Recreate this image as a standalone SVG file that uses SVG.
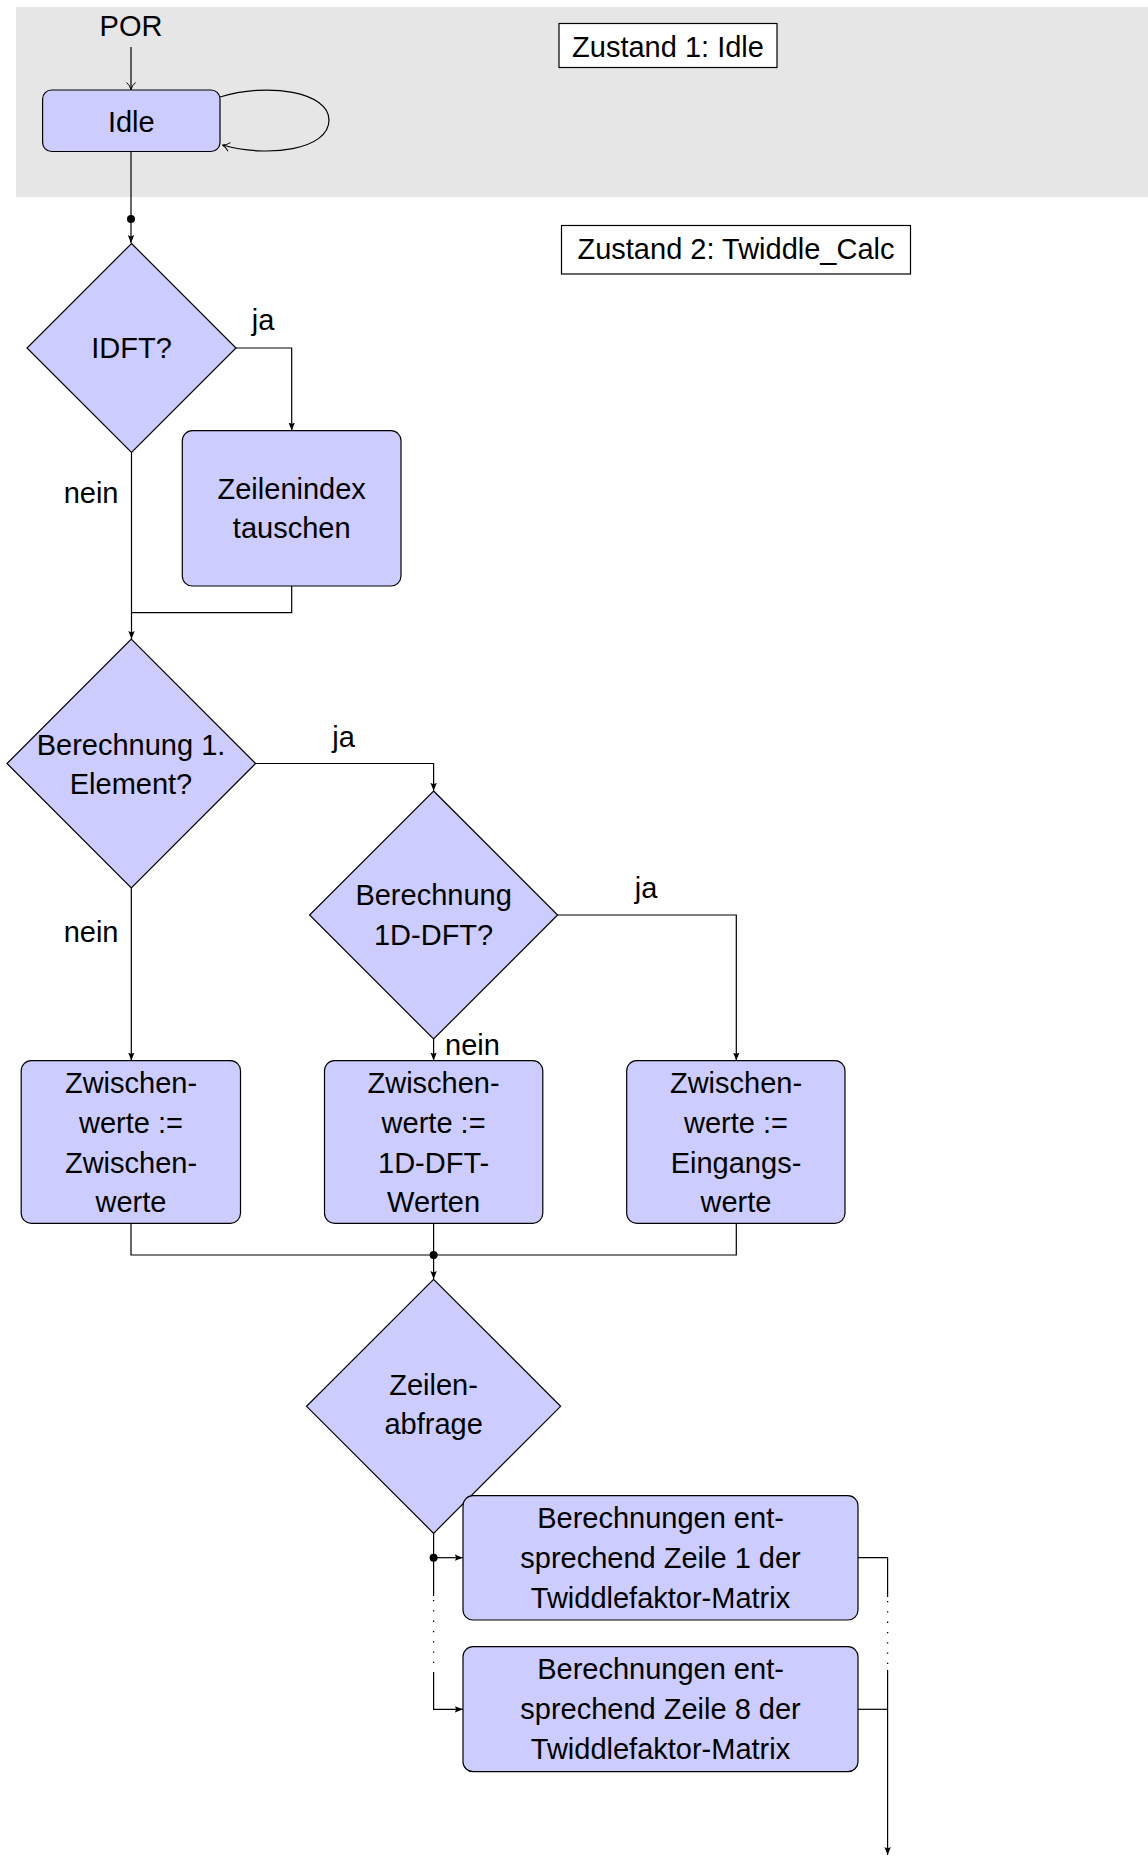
<svg xmlns="http://www.w3.org/2000/svg" width="1148" height="1856" viewBox="0 0 1148 1856">
<style>
text{font-family:"Liberation Sans",Arial,sans-serif;font-size:29px;fill:#000;text-anchor:middle}
.box{fill:#ccccff;stroke:#000;stroke-width:1.2}
.st{fill:#fff;stroke:#000;stroke-width:1.2}
.ln{fill:none;stroke:#000;stroke-width:1.2}
.dot{fill:none;stroke:#000;stroke-width:1.3;stroke-dasharray:1.3 9}
.lbl{text-anchor:start}
.lblr{text-anchor:end}
</style>
<defs>
<marker id="ah" markerWidth="10" markerHeight="8" refX="8" refY="4" orient="auto" markerUnits="userSpaceOnUse">
<path d="M0,0.8 L8,4 L0,7.2 L1.5,4 z" fill="#000"/>
</marker>
<marker id="to" markerWidth="12" markerHeight="12" refX="9" refY="6" orient="auto" markerUnits="userSpaceOnUse">
<path d="M2,1.5 Q5,5 9,6 Q5,7 2,10.5" fill="none" stroke="#000" stroke-width="1"/>
</marker>
</defs>
<rect x="16" y="7" width="1132" height="190" fill="#e6e6e6"/>

<g id="zustand1"><rect class="st" x="559" y="23.5" width="218" height="44"/><text x="668" y="57">Zustand 1: Idle</text></g>
<g id="zustand2"><rect class="st" x="561.5" y="225.5" width="349" height="48.5"/><text x="736" y="259">Zustand 2: Twiddle_Calc</text></g>

<g id="por"><text x="131" y="36">POR</text></g>
<g id="idle"><rect class="box" x="42.6" y="90" width="177.4" height="61.5" rx="9"/><text x="131.3" y="131.5">Idle</text></g>
<g id="idft"><polygon class="box" points="131.5,243.5 236,348 131.5,452.5 27,348"/><text x="131.5" y="358">IDFT?</text></g>
<g id="zeilenindex"><rect class="box" x="182.3" y="430.7" width="218.7" height="155.3" rx="10"/><text x="291.7" y="499">Zeilenindex</text><text x="291.7" y="538">tauschen</text></g>
<g id="berechnung1"><polygon class="box" points="131.3,639.2 255.6,763.5 131.3,887.8 7,763.5"/><text x="131" y="755">Berechnung 1.</text><text x="131" y="794">Element?</text></g>
<g id="berechnung1d"><polygon class="box" points="433.6,791 557.6,915 433.6,1039 309.6,915"/><text x="433.6" y="905">Berechnung</text><text x="433.6" y="945">1D-DFT?</text></g>
<g id="boxA"><rect class="box" x="21.2" y="1060.7" width="219.3" height="162.6" rx="10"/><text x="131" y="1093">Zwischen-</text><text x="131" y="1133">werte :=</text><text x="131" y="1173">Zwischen-</text><text x="131" y="1212">werte</text></g>
<g id="boxB"><rect class="box" x="324.5" y="1060.7" width="218.3" height="162.6" rx="10"/><text x="433.6" y="1093">Zwischen-</text><text x="433.6" y="1133">werte :=</text><text x="433.6" y="1173">1D-DFT-</text><text x="433.6" y="1212">Werten</text></g>
<g id="boxC"><rect class="box" x="626.7" y="1060.7" width="218.3" height="162.6" rx="10"/><text x="736" y="1093">Zwischen-</text><text x="736" y="1133">werte :=</text><text x="736" y="1173">Eingangs-</text><text x="736" y="1212">werte</text></g>
<g id="zeilenabfrage"><polygon class="box" points="433.6,1279.3 560.6,1406.3 433.6,1533.3 306.6,1406.3"/><text x="433.6" y="1395">Zeilen-</text><text x="433.6" y="1434">abfrage</text></g>
<g id="zeile1"><rect class="box" x="463" y="1495.7" width="395" height="124.3" rx="10"/><text x="660.5" y="1528">Berechnungen ent-</text><text x="660.5" y="1568">sprechend Zeile 1 der</text><text x="660.5" y="1608">Twiddlefaktor-Matrix</text></g>
<g id="zeile8"><rect class="box" x="463" y="1646.7" width="395" height="125" rx="10"/><text x="660.5" y="1679">Berechnungen ent-</text><text x="660.5" y="1719">sprechend Zeile 8 der</text><text x="660.5" y="1759">Twiddlefaktor-Matrix</text></g>

<g id="connectors">
<path class="ln" d="M131,47 V89.5" marker-end="url(#to)"/>
<path class="ln" d="M220,97 C268,82 329,92 329,120 C329,150 268,158 222.5,145" marker-end="url(#to)"/>
<path class="ln" d="M131,151.5 V243" marker-end="url(#ah)"/>
<circle cx="131" cy="219" r="4" fill="#000"/>
<path class="ln" d="M236,348 H291.7 V430.5" marker-end="url(#ah)"/>
<path class="ln" d="M131.5,452.5 V639" marker-end="url(#ah)"/>
<path class="ln" d="M291.7,586 V612.7 H131.5"/>
<path class="ln" d="M255.6,763.5 H433.6 V790.8" marker-end="url(#ah)"/>
<path class="ln" d="M131.3,887.8 V1060.5" marker-end="url(#ah)"/>
<path class="ln" d="M433.6,1039 V1060.5" marker-end="url(#ah)"/>
<path class="ln" d="M557.6,915 H736.3 V1060.5" marker-end="url(#ah)"/>
<path class="ln" d="M131,1223.3 V1255 H736.3 V1223.3"/>
<path class="ln" d="M433.6,1223.3 V1255"/>
<path class="ln" d="M433.6,1255 V1279" marker-end="url(#ah)"/>
<circle cx="433.6" cy="1255" r="4" fill="#000"/>
<path class="ln" d="M433.6,1533.3 V1596"/>
<path class="ln" d="M433.6,1557.7 H462.8" marker-end="url(#ah)"/>
<circle cx="433.6" cy="1557.7" r="4" fill="#000"/>
<path class="dot" d="M433.6,1600 V1672"/>
<path class="ln" d="M433.6,1672 V1709.3 H462.8" marker-end="url(#ah)"/>
<path class="ln" d="M858,1557.7 H887.6 V1597"/>
<path class="dot" d="M887.6,1601 V1670"/>
<path class="ln" d="M887.6,1670 V1855" marker-end="url(#ah)"/>
<path class="ln" d="M858,1709.3 H887.6"/>
</g>

<g id="labels">
<text x="263" y="330">ja</text>
<text class="lblr" x="118.5" y="503">nein</text>
<text x="343.6" y="746.5">ja</text>
<text class="lblr" x="118.5" y="941.5">nein</text>
<text x="646" y="897.5">ja</text>
<text class="lbl" x="445" y="1055">nein</text>
</g>
</svg>
